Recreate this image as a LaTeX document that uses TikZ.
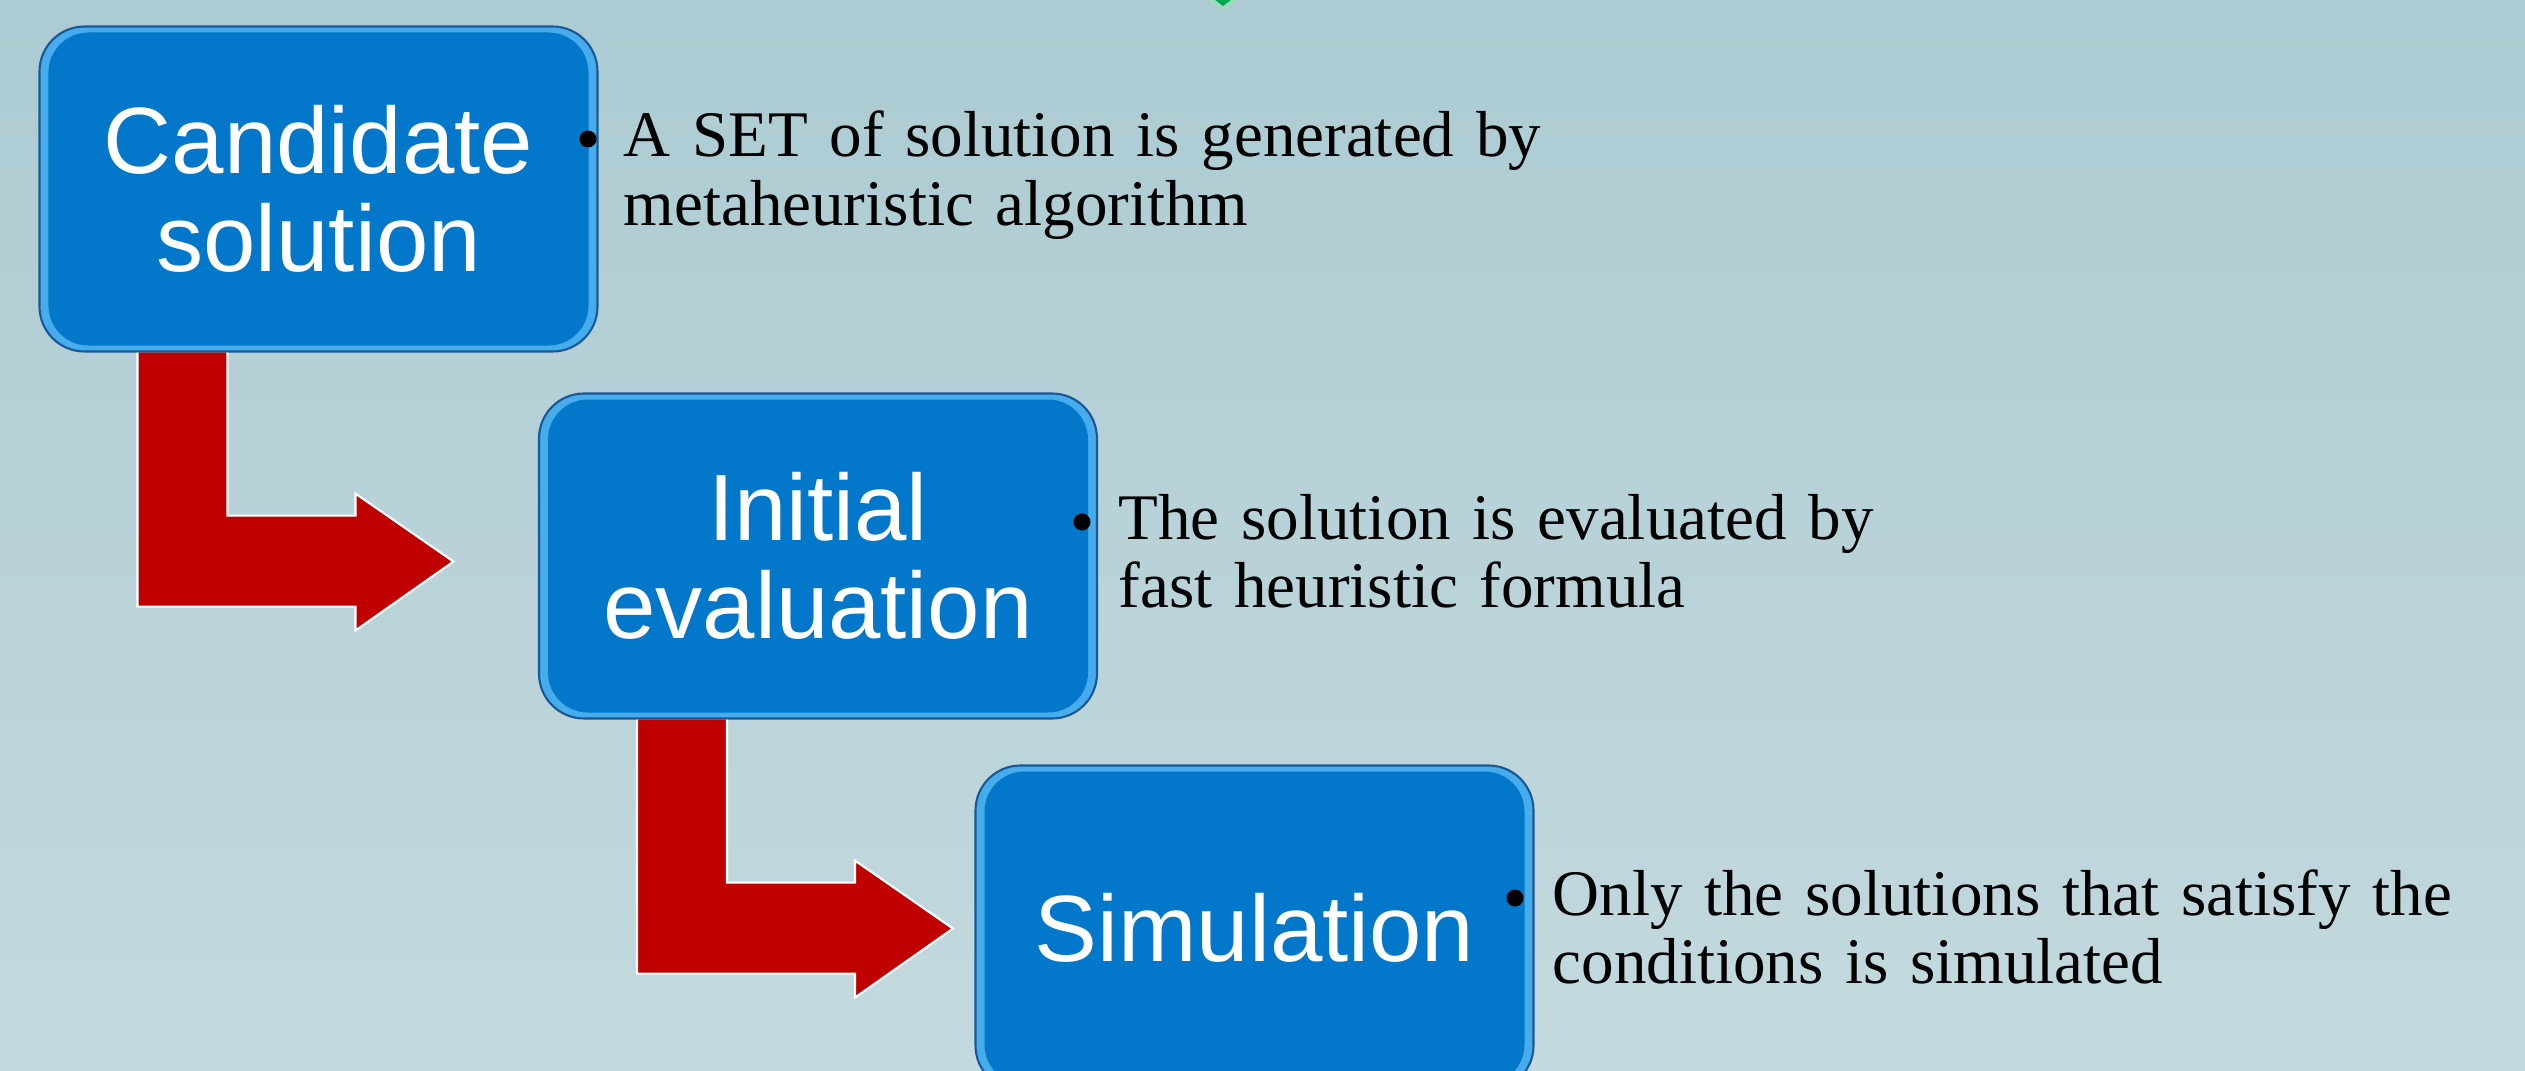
\documentclass[tikz,border=0pt]{standalone}
\usepackage{fontspec}
\setmainfont{Liberation Serif}
\newfontfamily\boxfont{Liberation Sans}
\usepackage{tikz}
\usetikzlibrary{positioning}
\definecolor{bgtop}{RGB}{172,203,210}
\definecolor{bgbottom}{RGB}{195,217,222}
\definecolor{boxblue}{RGB}{3,119,202}
\definecolor{rimblue}{RGB}{70,172,236}
\definecolor{edgeblue}{RGB}{25,88,148}
\definecolor{arrowred}{RGB}{192,0,0}
\definecolor{tipgreen}{RGB}{0,168,80}
\newcommand{\larrow}[1]{%
  \filldraw[redbend, shift={(#1.south west)}] (1.89,0) -- (1.89,-1.63) -- (3.17,-1.63) -- (3.17,-1.41)
    -- (4.15,-2.09) -- (3.17,-2.78) -- (3.17,-2.54) -- (0.99,-2.54) -- (0.99,0);}

\begin{document}
\begin{tikzpicture}[
    stage/.style={rectangle, rounded corners=0.45cm, minimum width=5.58cm, minimum height=3.25cm,
      inner sep=0pt, fill=rimblue, draw=edgeblue, line width=0.6pt, text=white, align=center,
      font=\boxfont\fontsize{26.8}{27.9}\selectfont,
      path picture={\fill[boxblue, rounded corners=0.4cm]
        ([shift={(0.09,0.06)}]path picture bounding box.south west) rectangle
        ([shift={(-0.09,-0.06)}]path picture bounding box.north east);}},
    note/.style={anchor=base west, text width=9.5cm, align=left, inner sep=0pt,
      font=\fontsize{18.5}{19.4}\selectfont},
    dot/.style={circle, fill=black, inner sep=0pt, minimum size=0.17cm},
    redbend/.style={fill=arrowred, draw=white, line width=0.6pt}
  ]
  \useasboundingbox (0,0) rectangle (25.25,10.70);
  \clip (0,0) rectangle (25.25,10.70);
  \shade[top color=bgtop, bottom color=bgbottom] (0,0) rectangle (25.25,10.70);
  \filldraw[fill=tipgreen, draw=white!60!tipgreen, line width=0.8pt] (12.10,10.72) -- (12.23,10.62) -- (12.36,10.72);

  \node[stage] (cand) at (3.185, 8.81) {Candidate\\solution};
  \node[stage] (init) at (8.18, 5.14) {Initial\\evaluation};
  \node[stage] (sim) at (12.545, 1.42) {Simulation};

  \larrow{cand}
  \larrow{init}

  \node[dot] (dot1) at (5.88, 9.31) {};
  \node[dot] (dot2) at (10.82, 5.48) {};
  \node[dot] (dot3) at (15.15, 1.72) {};

  \node[note] (candnote) at (6.23, 9.13) {A SET of solution is generated by\\metaheuristic algorithm};
  \node[note] (initnote) at (11.18, 5.31) {The solution is evaluated by\\fast heuristic formula};
  \node[note] (simnote) at (15.52, 1.55) {Only the solutions that satisfy the\\conditions is simulated};
\end{tikzpicture}
\end{document}
